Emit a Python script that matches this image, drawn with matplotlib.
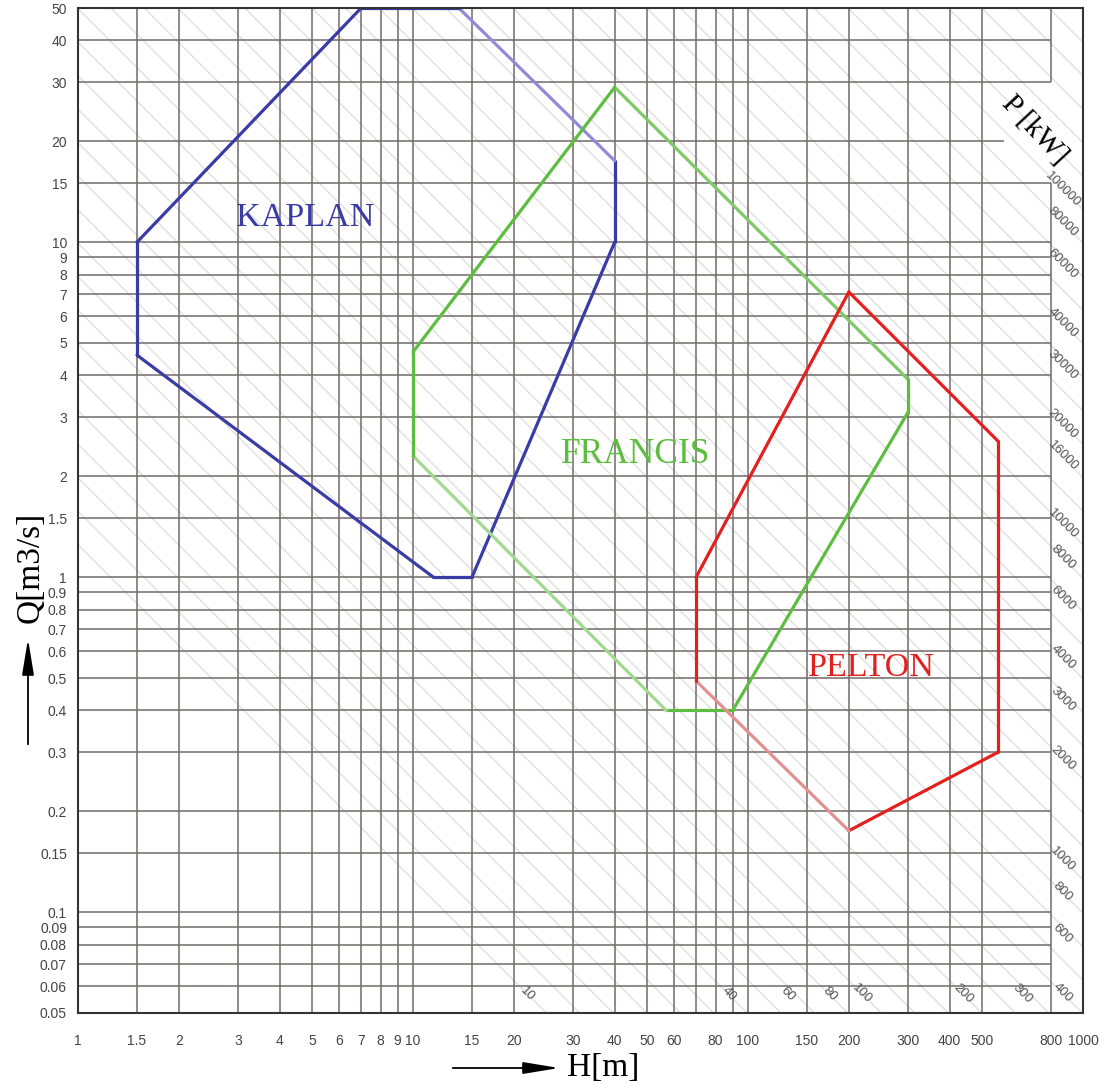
import numpy as np
import matplotlib
matplotlib.use('Agg')
import matplotlib.pyplot as plt
from matplotlib.ticker import NullLocator, FixedLocator, FixedFormatter

# turbine application ranges, H [m] vs Q [m3/s]
kaplan_h = [1.5, 1.5, 11.5, 15, 40, 40, 13.7, 7.0, 1.5]
kaplan_q = [10, 4.6, 1.0, 1.0, 10, 17.5, 50, 50, 10]
kaplan_light = [5]          # index of faded segment

francis_h = [40, 300, 300, 90, 57, 10, 10, 40]
francis_q = [29, 3.9, 3.1, 0.4, 0.4, 2.3, 4.7, 29]
francis_light = [4]
francis_mid = [0]

pelton_h = [200, 557, 557, 200, 70, 70, 200]
pelton_q = [7.1, 2.55, 0.3, 0.175, 0.49, 1.0, 7.1]
pelton_light = [3]

# grid
h_grid = [1.5, 2, 3, 4, 5, 6, 7, 8, 9, 10, 15, 20, 30, 40, 50, 60, 70, 80, 90,
          100, 150, 200, 300, 400, 500, 800]
q_grid = [0.06, 0.07, 0.08, 0.09, 0.1, 0.15, 0.2, 0.3, 0.4, 0.5, 0.6, 0.7, 0.8,
          0.9, 1, 1.5, 2, 3, 4, 5, 6, 7, 8, 9, 10, 15, 20, 30, 40]
h_ticks = [1, 1.5, 2, 3, 4, 5, 6, 7, 8, 9, 10, 15, 20, 30, 40, 50, 60, 80, 100,
           150, 200, 300, 400, 500, 800, 1000]
q_ticks = [0.05, 0.06, 0.07, 0.08, 0.09, 0.1, 0.15, 0.2, 0.3, 0.4, 0.5, 0.6, 0.7,
           0.8, 0.9, 1, 1.5, 2, 3, 4, 5, 6, 7, 8, 9, 10, 15, 20, 30, 40, 50]

# power lines P = k*Q*H [kW]
k_power = 8.0
p_bottom_labels = [10, 40, 60, 80, 100, 200, 300]
p_right_labels = [400, 600, 800, 1000, 2000, 3000, 4000, 6000, 8000, 10000,
                  16000, 20000, 30000, 40000, 60000, 80000, 100000]

W, H = 1105, 1084
fig = plt.figure(figsize=(W / 100, H / 100), dpi=100)
fig.patch.set_facecolor('white')
ax = fig.add_axes([78 / W, 1 - 1013 / H, (1083 - 78) / W, (1013 - 8) / H])
ax.set_xscale('log')
ax.set_yscale('log')
ax.set_xlim(1, 1000)
ax.set_ylim(0.05, 50)

# diagonal constant-power lines, every 0.1 decade
for p in 10 ** np.arange(1.0, 5.65, 0.1):
    ax.plot([1, 1000], [p / k_power, p / (k_power * 1000)], color='#e0e0e0',
            lw=1.0, zorder=1)

gcol = '#736a6a'
for h in h_grid:
    if h == 800:
        ax.vlines(h, 0.05, 15, color=gcol, lw=1.1, zorder=2)
        ax.vlines(h, 30, 50, color=gcol, lw=1.1, zorder=2)
    else:
        ax.vlines(h, 0.05, 50, color=gcol, lw=1.1, zorder=2)
for q in q_grid:
    xmax = 580 if q == 20 else 800
    ax.hlines(q, 1, xmax, color=gcol, lw=1.1, zorder=2)


def draw_range(hs, qs, col, light_col, light_idx, mid_col=None, mid_idx=()):
    for i in range(len(hs) - 1):
        c = col
        if i in light_idx:
            c = light_col
        elif i in mid_idx:
            c = mid_col
        ax.plot(hs[i:i + 2], qs[i:i + 2], color=c, lw=2.3, zorder=4,
                solid_capstyle='round')


draw_range(kaplan_h, kaplan_q, '#3b3ba6', '#928ad6', kaplan_light)
draw_range(francis_h, francis_q, '#5cbd3f', '#a3d891', francis_light,
           '#7fca68', francis_mid)
draw_range(pelton_h, pelton_q, '#e3201e', '#e29090', pelton_light)

serif = ['Liberation Serif', 'DejaVu Serif']
ax.text(4.76, 11.8, 'KAPLAN', color='#3b3ba6', fontsize=24.5, family=serif,
        ha='center', va='center', zorder=5)
ax.text(46.3, 2.32, 'FRANCIS', color='#5cbd3f', fontsize=25.5, family=serif,
        ha='center', va='center', zorder=5)
ax.text(234, 0.536, 'PELTON', color='#e3201e', fontsize=24.5, family=serif,
        ha='center', va='center', zorder=5)

# power labels
lab_kw = dict(fontsize=9.5, color='#555555', family='Liberation Sans',
              rotation=-45, ha='center', va='center', zorder=5,
              rotation_mode='anchor')
q_bot = 0.057
for p in p_bottom_labels:
    ax.text(p / (k_power * q_bot), q_bot, str(p), **lab_kw)
h_right = 870
for p in p_right_labels:
    ax.text(h_right, p / (k_power * h_right), str(p), **lab_kw)

# ticks
ax.xaxis.set_major_locator(FixedLocator(h_ticks))
ax.xaxis.set_major_formatter(FixedFormatter([f'{v:g}' for v in h_ticks]))
ax.yaxis.set_major_locator(FixedLocator(q_ticks))
ax.yaxis.set_major_formatter(FixedFormatter([f'{v:g}' for v in q_ticks]))
ax.xaxis.set_minor_locator(NullLocator())
ax.yaxis.set_minor_locator(NullLocator())
ax.tick_params(axis='both', length=0, labelsize=10, labelcolor='#444444')
ax.tick_params(axis='x', pad=15)
ax.tick_params(axis='y', pad=8)
for t in ax.get_xticklabels() + ax.get_yticklabels():
    t.set_family('Liberation Sans')

for s in ax.spines.values():
    s.set_color('#333333')
    s.set_linewidth(1.5)
    s.set_zorder(6)

# axis titles with arrows
fig.text(30 / W, 1 - 567 / H, 'Q[m3/s]', rotation=90, fontsize=24,
         family=serif, ha='center', va='center')
fig.text(603 / W, 1 - 1068 / H, 'H[m]', fontsize=24, family=serif,
         ha='center', va='center')
fig.text(1035 / W, 1 - 130 / H, 'P [kW]', rotation=-47, fontsize=21,
         family=serif, ha='center', va='center')

arrow_kw = dict(arrowstyle='-|>,head_length=1.1,head_width=0.18',
                color='black', lw=1.3, mutation_scale=20)
fig.patches.append(matplotlib.patches.FancyArrowPatch(
    (28 / W, 1 - 747 / H), (28 / W, 1 - 636 / H),
    transform=fig.transFigure, **arrow_kw))
fig.patches.append(matplotlib.patches.FancyArrowPatch(
    (450 / W, 1 - 1068 / H), (562 / W, 1 - 1068 / H),
    transform=fig.transFigure, **arrow_kw))

fig.savefig('out.png', dpi=100, facecolor='white')
